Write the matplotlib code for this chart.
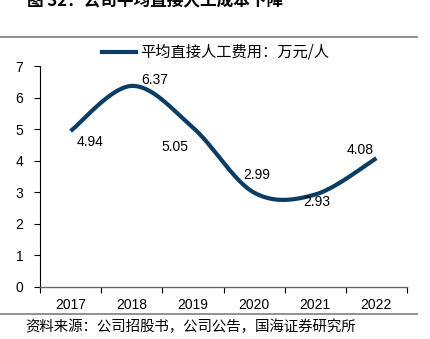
import numpy as np
import matplotlib
matplotlib.use("Agg")
import matplotlib.pyplot as plt
from matplotlib.lines import Line2D

plt.rcParams['font.family'] = ['Liberation Sans', 'Noto Sans CJK SC', 'DejaVu Sans']

years = ['2017', '2018', '2019', '2020', '2021', '2022']
values = [4.94, 6.37, 5.05, 2.99, 2.93, 4.08]
series_name = '平均直接人工费用：万元/人'
title = '图 32：公司平均直接人工成本下降'
source = '资料来源：公司招股书，公司公告，国海证券研究所'
label_offsets = [(19, -11), (23, 6), (-18, -19), (3, 18), (1, -8), (-16, 8)]

line_color = '#0B3C64'

W, H = 430, 339
fig = plt.figure(figsize=(W / 100, H / 100), dpi=100)
ax = fig.add_axes([40 / W, 52 / H, 367 / W, 221 / H])

# Catmull-Rom smoothing (Excel-style smoothed line)
x = np.arange(len(values), dtype=float)
y = np.array(values, dtype=float)
px = np.concatenate([[x[0]], x, [x[-1]]])
py = np.concatenate([[y[0]], y, [y[-1]]])
xs, ys = [], []
t = np.linspace(0, 1, 40)
for i in range(1, len(px) - 2):
    p0 = np.array([px[i], py[i]])
    p3 = np.array([px[i + 1], py[i + 1]])
    c1 = p0 + (np.array([px[i + 1], py[i + 1]]) - np.array([px[i - 1], py[i - 1]])) / 6
    c2 = p3 - (np.array([px[i + 2], py[i + 2]]) - np.array([px[i], py[i]])) / 6
    b = ((1 - t) ** 3)[:, None] * p0 + (3 * (1 - t) ** 2 * t)[:, None] * c1 + \
        (3 * (1 - t) * t ** 2)[:, None] * c2 + (t ** 3)[:, None] * p3
    xs.extend(b[:, 0]); ys.extend(b[:, 1])

ax.plot(xs, ys, color=line_color, lw=3.0, solid_capstyle='butt')

for xi, v, (dx, dy) in zip(x, values, label_offsets):
    ax.annotate(f'{v:.2f}', (xi, v), xytext=(dx, dy), textcoords='offset pixels',
                ha='center', va='center', fontsize=10, color='black')

ax.set_xlim(-0.5, len(values) - 0.5)
ax.set_ylim(0, 7)
ax.set_yticks(range(0, 8))
ax.set_xticks(np.arange(-0.5, len(values), 1.0))
ax.set_xticklabels([])
ax.set_xticks(x, minor=True)
ax.set_xticklabels(years, minor=True)
ax.tick_params(axis='x', which='minor', length=0, pad=8, labelsize=10)
ax.tick_params(axis='x', which='major', length=4, direction='out', width=0.8, color='black')
ax.tick_params(axis='y', length=4, direction='out', width=0.8, labelsize=10, pad=8)
for s in ['top', 'right']:
    ax.spines[s].set_visible(False)
ax.spines['left'].set_color('black')
ax.spines['left'].set_linewidth(0.8)
ax.spines['bottom'].set_color('#666666')
ax.spines['bottom'].set_linewidth(1.0)

# Legend
fig.add_artist(Line2D([102 / W, 136 / W], [1 - 52 / H, 1 - 52 / H], color=line_color, lw=3.0,
                      transform=fig.transFigure))
fig.text(140 / W, 1 - 52 / H, series_name, fontsize=11, va='center', ha='left',
         family=['Noto Sans CJK SC', 'DejaVu Sans'], fontweight='light')

# Frame lines
fig.add_artist(Line2D([0, 417 / W], [1 - 37 / H, 1 - 37 / H], color='#888888', lw=1.3,
                      transform=fig.transFigure))
fig.add_artist(Line2D([0, 417 / W], [1 - 314 / H, 1 - 314 / H], color='#888888', lw=1.3,
                      transform=fig.transFigure))

fig.text(27 / W, 1 - 1 / H, title, fontsize=12, fontweight='bold', va='center', ha='left',
         family=['Noto Sans CJK SC', 'DejaVu Sans'])
fig.text(25 / W, 1 - 327 / H, source, fontsize=10.4, va='center', ha='left',
         family=['Noto Sans CJK SC', 'DejaVu Sans'], fontweight='light')

fig.savefig('out.png', dpi=100)
